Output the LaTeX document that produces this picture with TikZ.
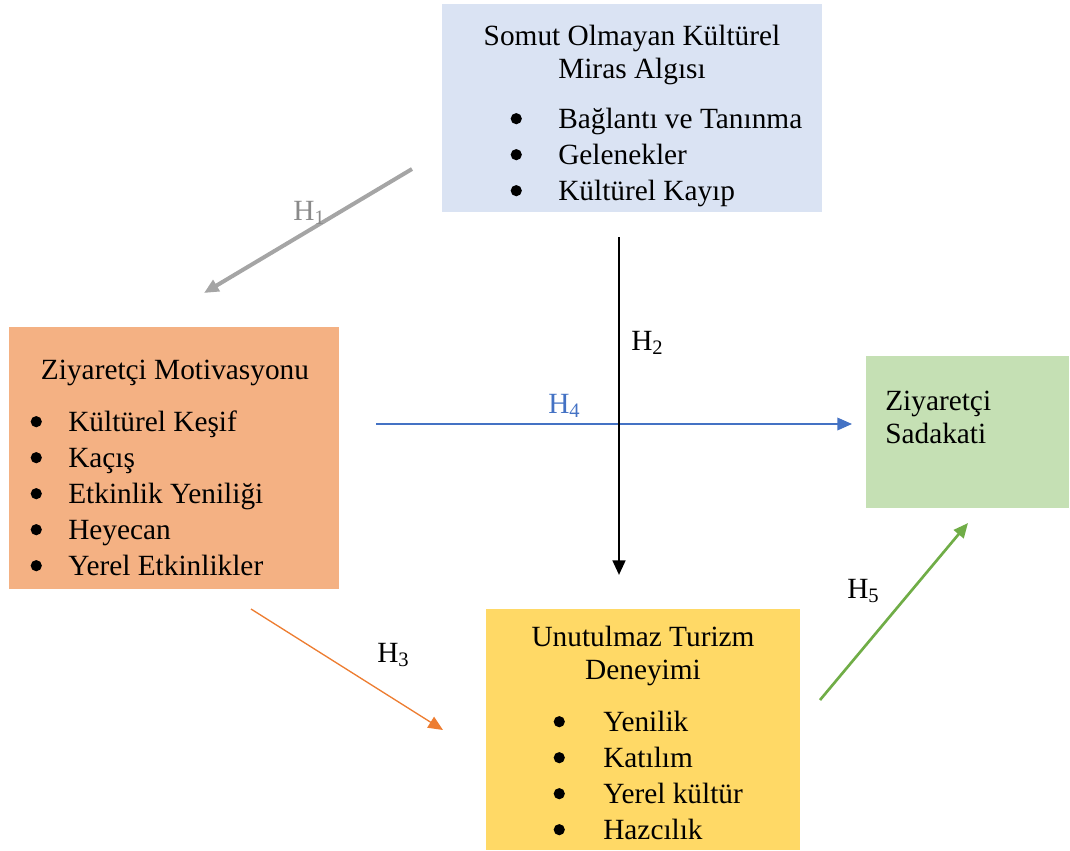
\documentclass[tikz,border=0pt]{standalone}
\usepackage{fontspec}
\setmainfont{Liberation Serif}
\usepackage{xcolor}
\usetikzlibrary{arrows.meta}

\definecolor{mirasmavi}{HTML}{DAE3F3}
\definecolor{motturuncu}{HTML}{F4B183}
\definecolor{sadyesil}{HTML}{C5E0B4}
\definecolor{densari}{HTML}{FFD966}
\definecolor{okgri}{HTML}{A5A5A5}
\definecolor{etiketgri}{HTML}{8A8A8A}
\definecolor{okmavi}{HTML}{4472C4}
\definecolor{okturuncu}{HTML}{ED7D31}
\definecolor{okyesil}{HTML}{70AD47}

% madde imi
\newcommand{\madde}{\tikz[baseline=0pt]\fill (0pt,7pt) circle (4.2pt);}

\begin{document}
\begin{tikzpicture}[x=0.75pt, y=-0.75pt,
	kutu/.style={anchor=north west, inner sep=0pt, outer sep=0pt},
	baslik/.style={inner sep=0pt, font=\fontsize{22}{24.75}\selectfont},
	liste/.style={inner sep=0pt, anchor=base west, font=\fontsize{22}{27}\selectfont},
	ok/.style={-{Triangle[length=11pt, width=9.5pt]}},
	etiket/.style={inner sep=0pt, anchor=base west, font=\fontsize{22}{27}\selectfont}]
					\useasboundingbox (0,0) rectangle (1070,850);
					
					%%% Kutular
					\node[kutu, fill=mirasmavi, minimum width=285pt, minimum height=156pt] (miras) at (442,4) {};
					\node[kutu, fill=motturuncu, minimum width=247.5pt, minimum height=196.5pt] (motivasyon) at (9,327) {};
					\node[kutu, fill=sadyesil, minimum width=152.25pt, minimum height=114pt] (sadakat) at (866,356) {};
					\node[kutu, fill=densari, minimum width=235.5pt, minimum height=180.75pt] (deneyim) at (486,609) {};
					
					%%% Yazilar
					\node[baslik, anchor=base] (mirasbaslik) at (632,45) {\begin{tabular}[t]{@{}c@{}}Somut Olmayan Kültürel\\Miras Algısı\end{tabular}};
					\node[liste] (mirasliste) at (510.4,128) {\begin{tabular}[t]{@{}l@{\hspace{27.3pt}}l@{}}\madde & Bağlantı ve Tanınma\\ \madde & Gelenekler\\ \madde & Kültürel Kayıp\end{tabular}};
					
					\node[baslik, anchor=base] (motbaslik) at (175,379) {Ziyaretçi Motivasyonu};
					\node[liste] (motliste) at (30.4,431) {\begin{tabular}[t]{@{}l@{\hspace{19.8pt}}l@{}}\madde & Kültürel Keşif\\ \madde & Kaçış\\ \madde & Etkinlik Yeniliği\\ \madde & Heyecan\\ \madde & Yerel Etkinlikler\end{tabular}};
					
					\node[baslik, anchor=base west] (sadbaslik) at (885,410) {\begin{tabular}[t]{@{}l@{}}Ziyaretçi\\Sadakati\end{tabular}};
					
					\node[baslik, anchor=base] (denbaslik) at (643,646) {\begin{tabular}[t]{@{}c@{}}Unutulmaz Turizm\\Deneyimi\end{tabular}};
					\node[liste] (denliste) at (553.4,731) {\begin{tabular}[t]{@{}l@{\hspace{28.8pt}}l@{}}\madde & Yenilik\\ \madde & Katılım\\ \madde & Yerel kültür\\ \madde & Hazcılık\end{tabular}};
					
					%%% Oklarin uclari
					\coordinate (h1bas) at (412,169);
					\coordinate (h1son) at (204,293);
					\coordinate (h2bas) at (619,237);
					\coordinate (h2son) at (619,575);
					\coordinate (h3bas) at (251,609);
					\coordinate (h3son) at (443,730);
					\coordinate (h4bas) at (376,424);
					\coordinate (h4son) at (852,424);
					\coordinate (h5bas) at (820,700);
					\coordinate (h5son) at (968,523);
					
					%%% Oklar
					\draw[ok, okgri, line width=3pt] (h1bas) -- (h1son);
					\draw[ok, okmavi, line width=1pt] (h4bas) -- (h4son);
					\draw[ok, black, line width=2pt] (h2bas) -- (h2son);
					\draw[ok, okturuncu, line width=1pt] (h3bas) -- (h3son);
					\draw[ok, okyesil, line width=2pt] (h5bas) -- (h5son);
					
					%%% Hipotezler
					\node[etiket, text=etiketgri] (h1) at (293,220) {H\textsubscript{1}};
					\node[etiket] (h2) at (631,350) {H\textsubscript{2}};
					\node[etiket] (h3) at (377,662) {H\textsubscript{3}};
					\node[etiket, text=okmavi] (h4) at (548,413) {H\textsubscript{4}};
					\node[etiket] (h5) at (847,598) {H\textsubscript{5}};
				\end{tikzpicture}
\end{document}
